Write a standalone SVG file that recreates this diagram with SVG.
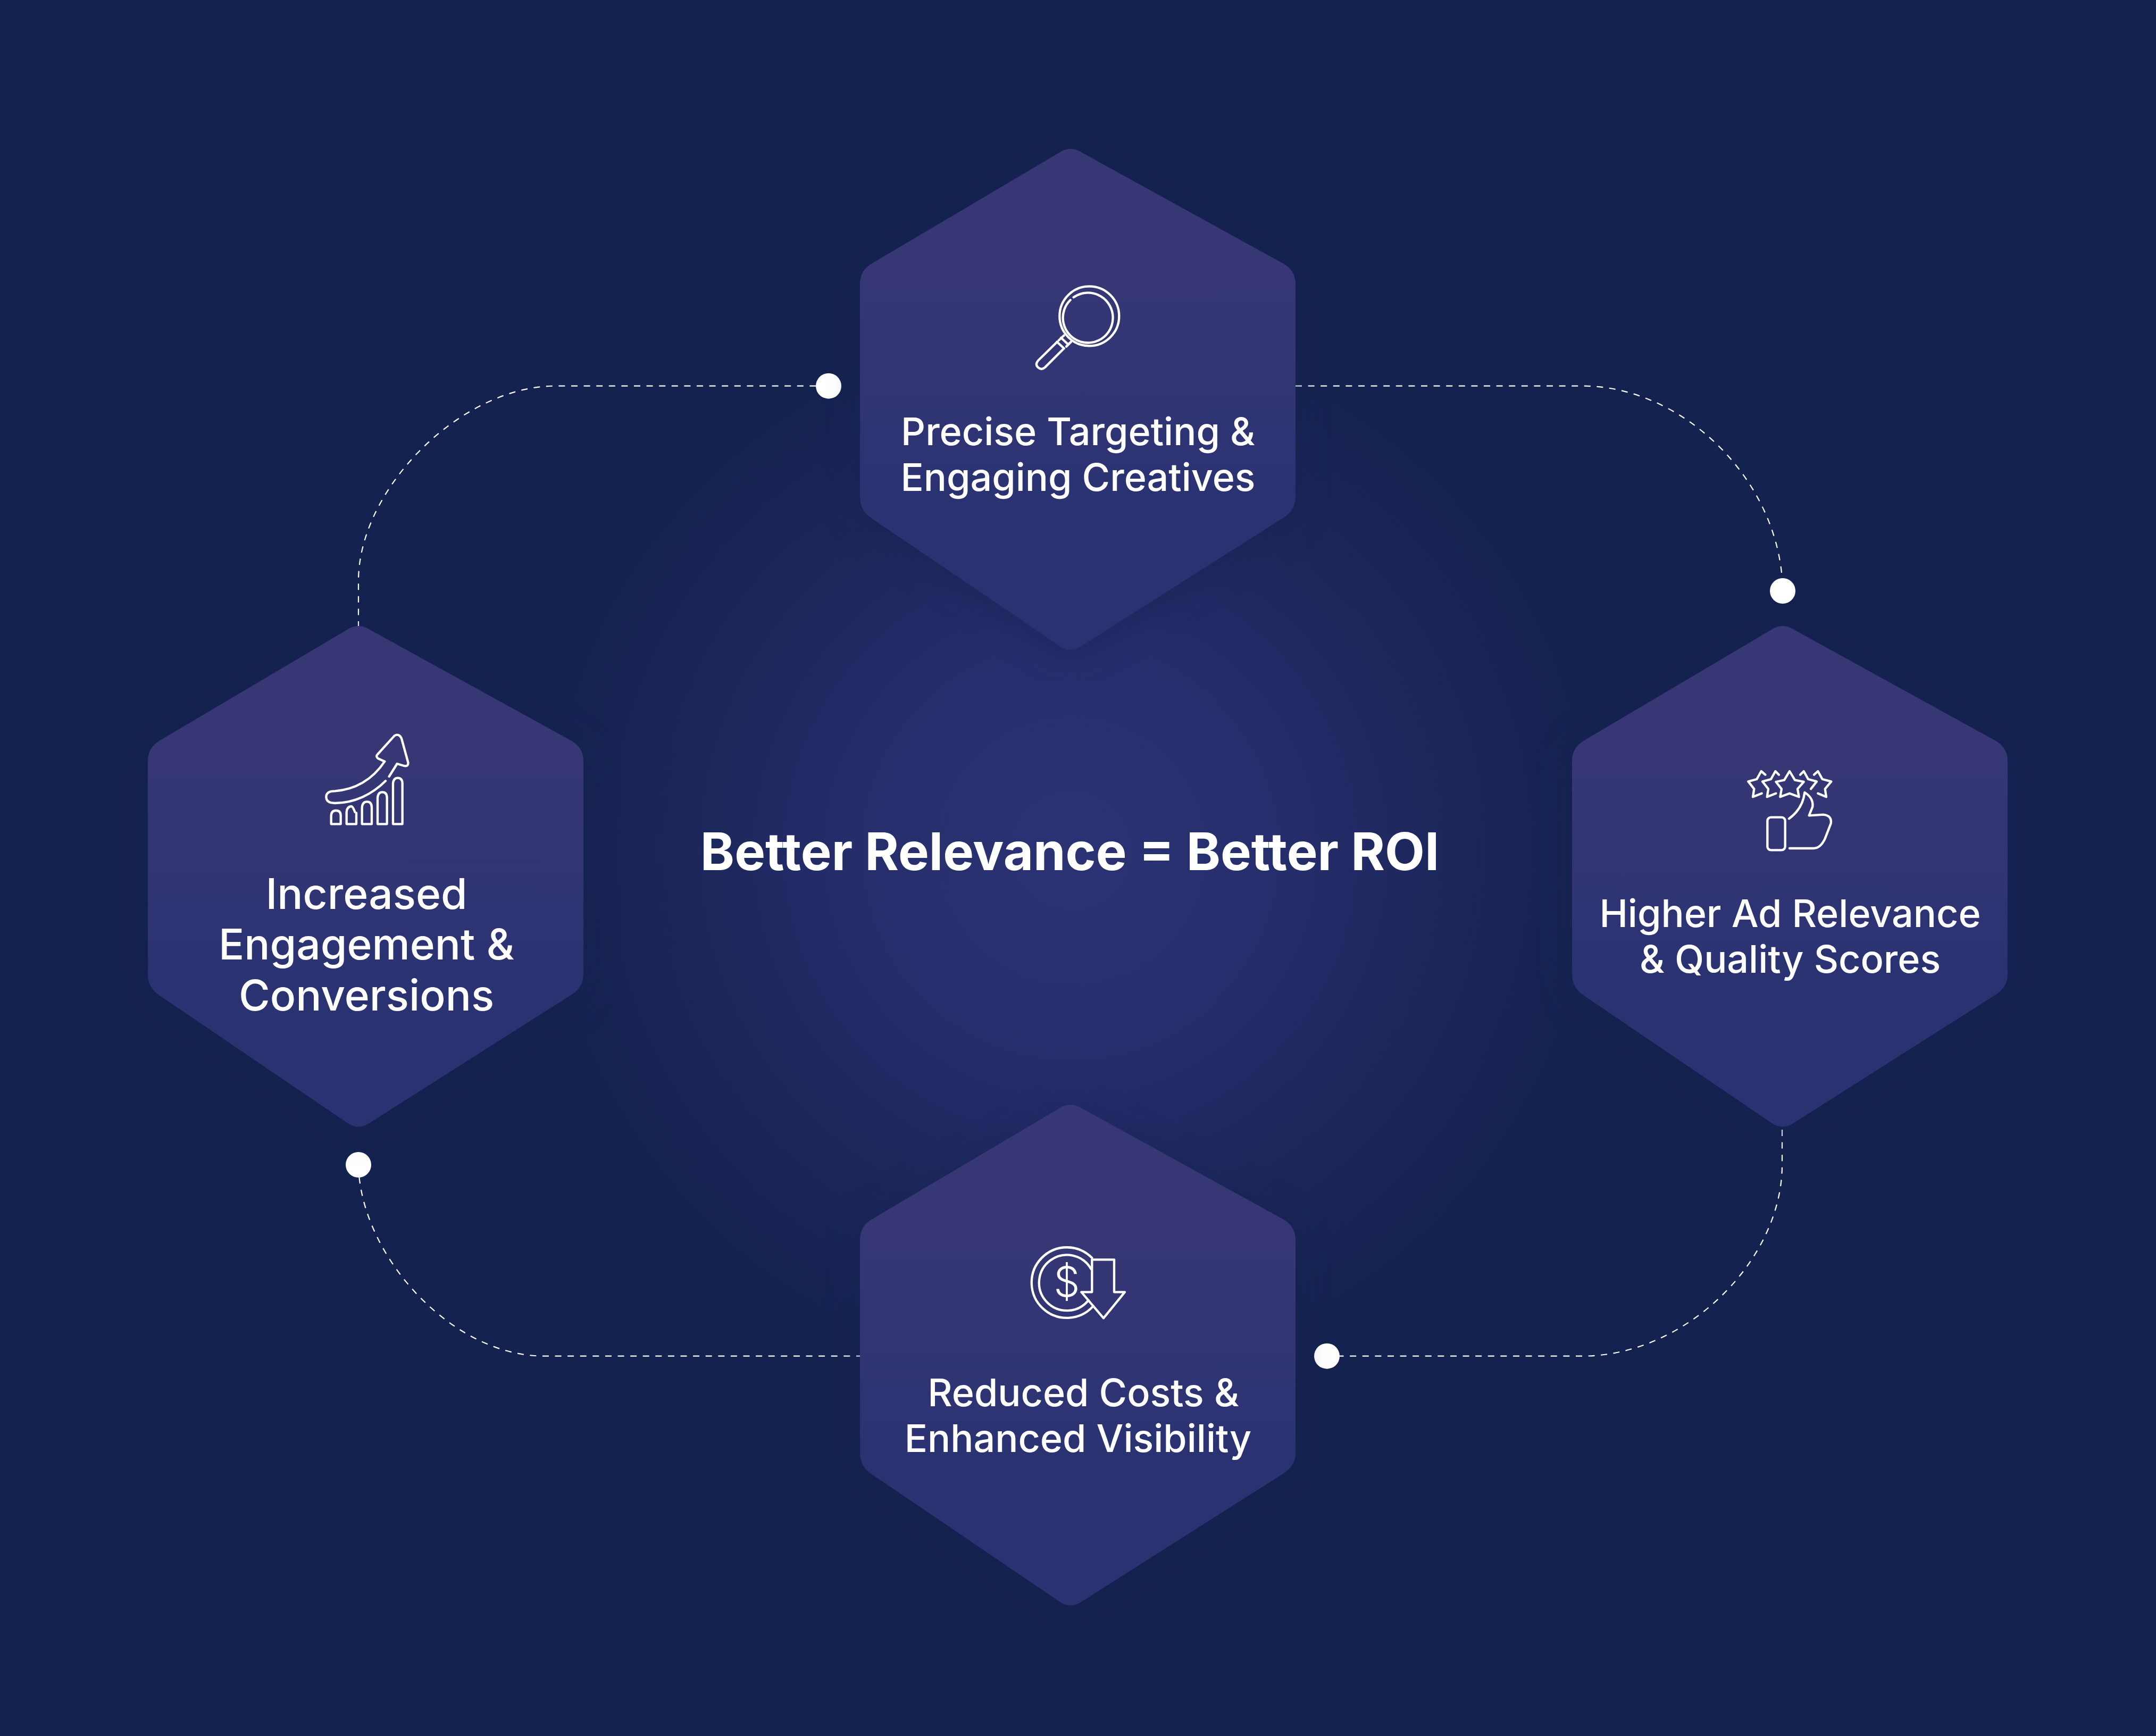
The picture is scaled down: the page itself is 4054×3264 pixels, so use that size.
<svg xmlns="http://www.w3.org/2000/svg" width="4054" height="3264" viewBox="0 0 4054 3264">
<style>
.lbl{font-family:Inter,"Liberation Sans",sans-serif;fill:#fff;text-anchor:middle;font-weight:450}
.s{font-size:71.8px}.l{font-size:80.2px}
.ttl{font-family:Inter,"Liberation Sans",sans-serif;font-weight:700;font-size:97.2px;fill:#fff;text-anchor:middle}
.ic{fill:none;stroke:#fff;stroke-width:13;stroke-linecap:round;stroke-linejoin:round}
.dash{fill:none;stroke:#fff;stroke-width:2.2;stroke-dasharray:12 11.6}
.dot{fill:#fff}
</style>
<defs>
<linearGradient id="hg" x1="0" y1="0" x2="0" y2="1"><stop offset="0.25" stop-color="#373775"/><stop offset="0.72" stop-color="#2a3272"/></linearGradient>
<radialGradient id="glow" cx="2013" cy="1600" r="1000" gradientUnits="userSpaceOnUse"><stop offset="0" stop-color="#2c3375"/><stop offset=".42" stop-color="#262d6b"/><stop offset=".74" stop-color="#1a2658"/><stop offset="1" stop-color="#14224f"/></radialGradient>
<filter id="sh" x="-15%" y="-15%" width="130%" height="130%" color-interpolation-filters="sRGB"><feDropShadow dx="0" dy="10" stdDeviation="28" flood-color="#14224f" flood-opacity=".5"/></filter>
<path id="hex" d="M1995 285Q2013 275 2031 285L2412 495Q2436 508 2436 534V934Q2436 959 2414 973L2033 1215Q2013 1228 1993 1215L1638 974Q1617 960 1617 934V534Q1617 508 1640 495Z" fill="url(#hg)" filter="url(#sh)"/>
</defs>
<rect width="4054" height="3264" fill="#14224f"/>
<rect x="1000" y="600" width="2026" height="2000" fill="url(#glow)"/>
<g id="connectors">
<path class="dash" d="M2436 725.7H2976C3165 725.7 3350 905 3352 1111"/>
<path class="dash" d="M1558 725.7H1044C870 725.7 676 915 674 1090V1177"/>
<path class="dash" d="M3351 2124V2190C3351 2370 3170 2549.7 2975 2549.7H2495"/>
<path class="dash" d="M674 2190C677 2359 848 2549.7 1023 2549.7H1620"/>
<circle class="dot" cx="1558" cy="725.7" r="24"/>
<circle class="dot" cx="3352" cy="1111" r="24"/>
<circle class="dot" cx="2495" cy="2549.7" r="24"/>
<circle class="dot" cx="674" cy="2190" r="24"/>
</g>
<g id="node-top">
<use href="#hex"/>
<g class="ic" transform="translate(1900 500) scale(.3333)">
<circle cx="445" cy="283" r="168"/>
<path d="M356 177A141 141 0 1 1 338 192"/>
<path d="M302 392L272 420M342 428L315 455M285 405L325 442M262 428L302 465"/>
<path d="M262 430L155 535Q138 555 155 572Q175 590 195 572L302 465"/>
</g>
<text class="lbl s" x="2027" y="837">Precise Targeting &amp;</text>
<text class="lbl s" x="2027" y="923">Engaging Creatives</text>
</g>
<g id="node-right">
<use href="#hex" x="1339" y="897"/>
<g class="ic" transform="translate(3260 1420) scale(.3333)">
<path d="M178 110L155 90L130 135L82 148L115 190L108 235L158 215"/>
<path d="M255 110L235 90L210 135L162 148L195 190L188 235L238 215"/>
<path d="M315 90L345 140L395 150L360 190L368 235L315 215L262 235L270 190L238 150L285 140Z"/>
<path d="M375 110L395 90L420 135L468 148L435 190"/>
<path d="M453 110L475 90L500 135L550 148L515 190L522 235L475 215"/>
<rect x="190" y="350" width="100" height="185" rx="20"/>
<path d="M312 358Q390 300 400 210Q450 240 445 290L425 340L505 335Q555 340 548 385L515 470Q490 525 450 525L315 525"/>
</g>
<text class="lbl s" x="3366" y="1743">Higher Ad Relevance</text>
<text class="lbl s" x="3366" y="1829">&amp; Quality Scores</text>
</g>
<g id="node-bottom">
<use href="#hex" y="1797"/>
<g class="ic" transform="translate(1910 2310) scale(.3333)">
<path d="M430 165A199 199 0 1 0 437 437"/>
<path d="M425 228A157 157 0 1 0 410 405"/>
<path d="M430 175H555V358H615L495 505L370 358H430Z"/>
</g>
<text x="2006" y="2438" font-family="Inter,'Liberation Sans',sans-serif" font-size="78" font-weight="300" fill="#fff" text-anchor="middle">$</text>
<text class="lbl s" x="2037" y="2644">Reduced Costs &amp;</text>
<text class="lbl s" x="2027" y="2730">Enhanced Visibility</text>
</g>
<g id="node-left">
<use href="#hex" x="-1339" y="897"/>
<g class="ic" transform="translate(580 1350) scale(.3333)">
<path d="M435 355C360 430 260 480 150 480Q100 480 100 445Q100 412 150 412C260 405 360 350 430 245L392 228Q378 215 390 205L485 100Q510 85 525 115L562 250Q565 275 540 270L500 258L455 330"/>
<path d="M128 598V550Q130 522 155 522Q182 522 182 550V598Z"/>
<path d="M262 530Q250 498 242 498Q215 500 215 535V598H270V535"/>
<path d="M302 598V505Q305 472 330 472Q357 472 357 505V598Z"/>
<path d="M390 598V450Q392 418 417 418Q443 418 443 450V598Z"/>
<path d="M477 598V370Q480 338 503 338Q530 338 530 370V598Z"/>
</g>
<text class="lbl l" x="689" y="1709">Increased</text>
<text class="lbl l" x="689" y="1804">Engagement &amp;</text>
<text class="lbl l" x="689" y="1900">Conversions</text>
</g>
<text id="title" class="ttl" x="2011.5" y="1636">Better Relevance = Better ROI</text>
</svg>
